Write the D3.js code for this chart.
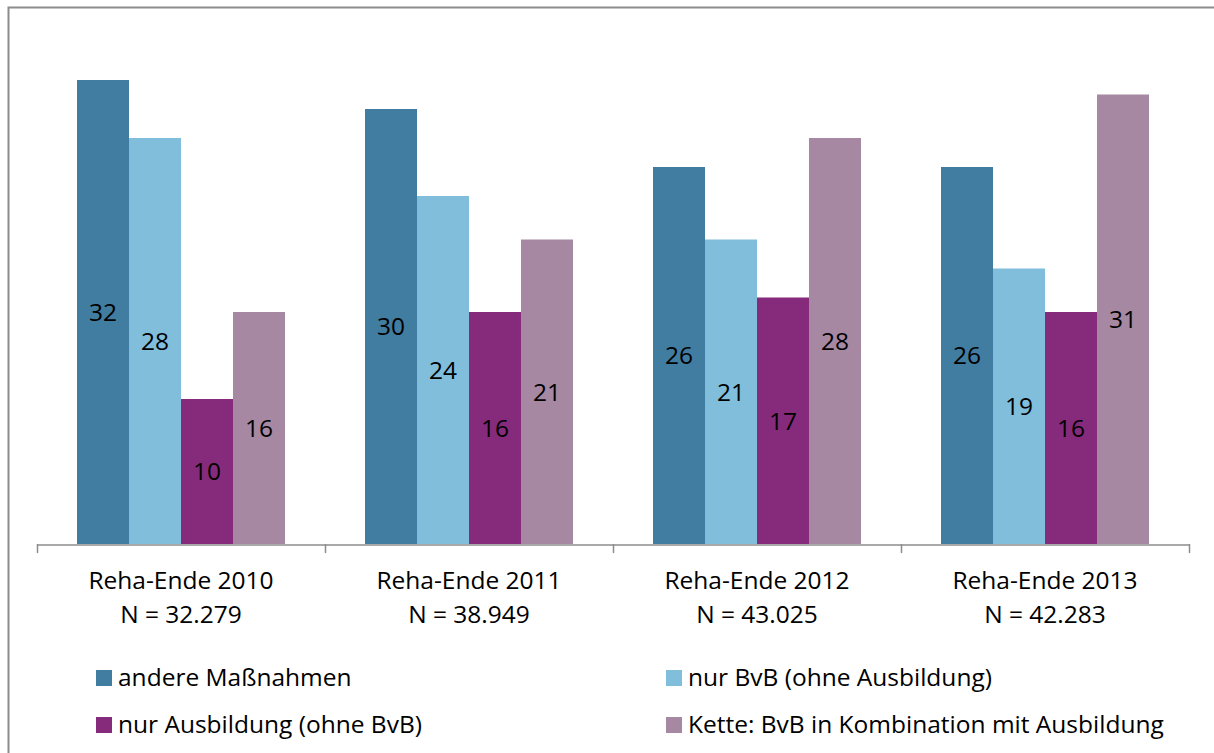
<!DOCTYPE html>
<html>
<head>
<meta charset="utf-8">
<script src="https://cdn.jsdelivr.net/npm/d3@7"></script>
<style>
  body { margin: 0; background: #fff; }
  svg { display: block; font-family: "Open Sans", sans-serif; }
</style>
</head>
<body>
<div id="chart"></div>
<script>
// data
const categories = ['Reha-Ende 2010', 'Reha-Ende 2011', 'Reha-Ende 2012', 'Reha-Ende 2013'];
const sampleSizes = ['N = 32.279', 'N = 38.949', 'N = 43.025', 'N = 42.283'];
const seriesNames = ['andere Maßnahmen', 'nur BvB (ohne Ausbildung)', 'nur Ausbildung (ohne BvB)', 'Kette: BvB in Kombination mit Ausbildung'];
const andere   = [32, 30, 26, 26];
const nurBvB   = [28, 24, 21, 19];
const nurAusb  = [10, 16, 17, 16];
const kette    = [16, 21, 28, 31];
const seriesValues = [andere, nurBvB, nurAusb, kette];
const colours = ['#417ca1', '#80bedc', '#862b7c', '#a688a2'];

// =============================================
const W = 1214, H = 753;
const FS = 24.5;
const svg = d3.select('#chart').append('svg')
  .attr('width', W).attr('height', H);

// outer frame
svg.append('rect')
   .attr('x', 8.5).attr('y', 7.5)
   .attr('width', W + 10).attr('height', H + 10)
   .attr('fill', 'none')
   .attr('stroke', '#8c8c8c')
   .attr('stroke-width', 2);

const x = d3.scaleBand().domain(categories).range([37, 1189]);
const xInner = d3.scaleBand().domain(d3.range(seriesNames.length))
  .range([40, 248]);
const y = d3.scaleLinear().domain([0, 32]).range([544, 80]);

const groups = svg.selectAll('g.grp')
  .data(categories)
  .enter().append('g')
  .attr('class', 'grp')
  .attr('transform', d => `translate(${x(d)},0)`);

groups.each(function(cat, ci) {
  const g = d3.select(this);
  const rows = seriesValues.map((vals, si) => ({ si: si, v: vals[ci] }));
  g.selectAll('rect')
   .data(rows)
   .enter().append('rect')
   .attr('x', d => xInner(d.si))
   .attr('width', xInner.bandwidth())
   .attr('y', d => y(d.v))
   .attr('height', d => y(0) - y(d.v))
   .attr('fill', d => colours[d.si]);
  g.selectAll('text.val')
   .data(rows)
   .enter().append('text')
   .attr('class', 'val')
   .attr('x', d => xInner(d.si) + xInner.bandwidth() / 2)
   .attr('y', d => (y(d.v) + y(0)) / 2)
   .attr('dy', '0.36em')
   .attr('text-anchor', 'middle')
   .attr('font-size', FS)
   .attr('fill', '#000')
   .text(d => d.v);
});

// axis
const axis = svg.append('g')
  .attr('transform', 'translate(0,544.5)')
  .call(d3.axisBottom(x).tickSize(0).tickFormat(''));
axis.select('.domain').attr('stroke', '#8c8c8c').attr('stroke-width', 1.5);
const tickXs = categories.map(c => x(c)).concat([x.range()[1]]);
svg.selectAll('line.tick')
   .data(tickXs)
   .enter().append('line')
   .attr('class', 'tick')
   .attr('x1', d => Math.round(d) + 0.5).attr('x2', d => Math.round(d) + 0.5)
   .attr('y1', 544).attr('y2', 553)
   .attr('stroke', '#8c8c8c').attr('stroke-width', 1.5);

// category labels
groups.append('text')
  .attr('x', x.bandwidth() / 2).attr('y', 589)
  .attr('text-anchor', 'middle').attr('font-size', FS)
  .text(d => d);
groups.append('text')
  .attr('x', x.bandwidth() / 2).attr('y', 623)
  .attr('text-anchor', 'middle').attr('font-size', FS)
  .text((d, i) => sampleSizes[i]);

// legend
const legendPos = [[96, 686], [666, 686], [96, 733], [666, 733]];
const legend = svg.selectAll('g.leg')
  .data(seriesNames)
  .enter().append('g')
  .attr('class', 'leg')
  .attr('transform', (d, i) => `translate(${legendPos[i][0]},${legendPos[i][1]})`);
legend.append('rect')
  .attr('x', 0).attr('y', -16).attr('width', 16).attr('height', 16)
  .attr('fill', (d, i) => colours[i]);
legend.append('text')
  .attr('x', 22).attr('y', 0)
  .attr('font-size', FS)
  .text(d => d);
</script>
</body>
</html>
